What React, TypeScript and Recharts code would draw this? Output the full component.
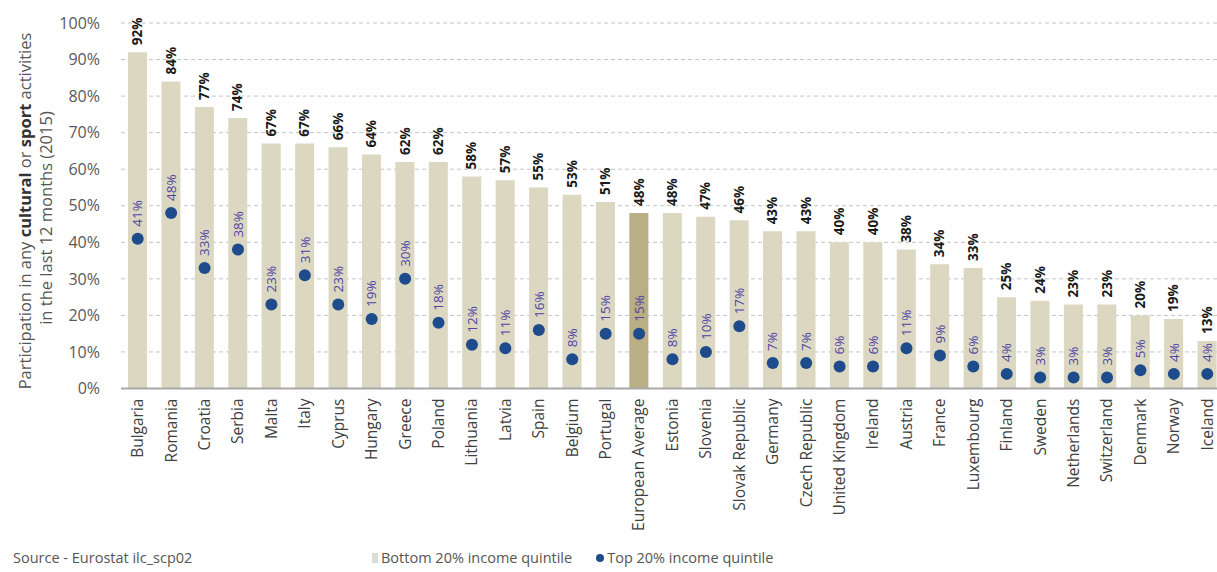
import React from "react";
import {
  ComposedChart,
  Bar,
  Line,
  XAxis,
  YAxis,
  CartesianGrid,
  Cell,
  LabelList,
} from "recharts";

const countries = [
  "Bulgaria", "Romania", "Croatia", "Serbia", "Malta", "Italy", "Cyprus", "Hungary",
  "Greece", "Poland", "Lithuania", "Latvia", "Spain", "Belgium", "Portugal",
  "European Average", "Estonia", "Slovenia", "Slovak Republic", "Germany",
  "Czech Republic", "United Kingdom", "Ireland", "Austria", "France", "Luxembourg",
  "Finland", "Sweden", "Netherlands", "Switzerland", "Denmark", "Norway", "Iceland",
];

const bottomQuintile = [
  92, 84, 77, 74, 67, 67, 66, 64, 62, 62, 58, 57, 55, 53, 51, 48, 48, 47, 46, 43,
  43, 40, 40, 38, 34, 33, 25, 24, 23, 23, 20, 19, 13,
];

const topQuintile = [
  41, 48, 33, 38, 23, 31, 23, 19, 30, 18, 12, 11, 16, 8, 15, 15, 8, 10, 17, 7, 7,
  6, 6, 11, 9, 6, 4, 3, 3, 3, 5, 4, 4,
];

const yTicks = [0, 10, 20, 30, 40, 50, 60, 70, 80, 90, 100];

const highlight = "European Average";

const data = countries.map((c, i) => ({
  name: c,
  bottom: bottomQuintile[i],
  top: topQuintile[i],
}));

const FONT = "'Open Sans', 'DejaVu Sans', sans-serif";
const BAR = "#dbd7c0";
const BAR_HL = "#b9ae84";
const DOT = "#1d4b8c";
const DOT_LABEL = "#4d44a6";

const XTick = (props: any) => {
  const { x, y, payload } = props;
  return (
    <text
      x={x}
      y={y}
      dy="0.35em"
      textAnchor="end"
      transform={`rotate(-90, ${x}, ${y})`}
      fontSize={15.5}
      fontFamily={FONT}
      fill="#404040"
    >
      {payload.value}
    </text>
  );
};

const BarLabel = (props: any) => {
  const { x, y, width, value } = props;
  const cx = x + width / 2;
  const yy = y - 7;
  return (
    <text
      x={cx}
      y={yy}
      dy="0.35em"
      textAnchor="start"
      transform={`rotate(-90, ${cx}, ${yy})`}
      fontSize={13.5}
      fontWeight="bold"
      fontFamily={FONT}
      fill="#1a1a1a"
    >
      {value}%
    </text>
  );
};

const DotLabel = (props: any) => {
  const { x, y, value } = props;
  const yy = y - 12;
  return (
    <text
      x={x}
      y={yy}
      dy="0.35em"
      textAnchor="start"
      transform={`rotate(-90, ${x}, ${yy})`}
      fontSize={13.5}
      fontFamily={FONT}
      fill={DOT_LABEL}
    >
      {value}%
    </text>
  );
};

const YLabel = () => {
  const cy1 = 211;
  const cy2 = 218;
  const x1 = 25;
  const x2 = 46;
  return (
    <g fontFamily={FONT} fontSize={16.5} fill="#555">
      <text
        x={x1}
        y={cy1}
        textAnchor="middle"
        dy="0.35em"
        transform={`rotate(-90, ${x1}, ${cy1})`}
      >
        Participation in any <tspan fontWeight="bold" fill="#333">cultural</tspan> or{" "}
        <tspan fontWeight="bold" fill="#333">sport</tspan> activities
      </text>
      <text
        x={x2}
        y={cy2}
        textAnchor="middle"
        dy="0.35em"
        transform={`rotate(-90, ${x2}, ${cy2})`}
      >
        in the last 12 months (2015)
      </text>
    </g>
  );
};

export default function App() {
  return (
    <div
      style={{
        position: "absolute",
        left: 0,
        top: 0,
        width: 1217,
        height: 572,
        overflow: "hidden",
        background: "#fff",
        fontFamily: FONT,
      }}
    >
      <ComposedChart
        width={1224}
        height={572}
        data={data}
        margin={{ top: 23, right: 0, left: 0, bottom: 0 }}
      >
        <CartesianGrid
          vertical={false}
          stroke="#c4c4c4"
          strokeDasharray="4 3"
        />
        <XAxis
          dataKey="name"
          interval={0}
          height={183.5}
          tick={<XTick />}
          tickLine={false}
          tickSize={0}
          tickMargin={10}
          axisLine={{ stroke: "#a8a8a8", strokeWidth: 2 }}
        />
        <YAxis
          width={121}
          domain={[0, 100]}
          ticks={yTicks}
          tickFormatter={(v: number) => `${v}%`}
          axisLine={false}
          tickLine={false}
          tickSize={0}
          tickMargin={21}
          tick={{ fontSize: 16, fill: "#595959", fontFamily: FONT }}
          label={{ content: <YLabel /> }}
        />
        <Bar dataKey="bottom" barSize={19} isAnimationActive={false}>
          {data.map((d) => (
            <Cell key={d.name} fill={d.name === highlight ? BAR_HL : BAR} />
          ))}
          <LabelList dataKey="bottom" content={<BarLabel />} />
        </Bar>
        <Line
          dataKey="top"
          stroke="none"
          isAnimationActive={false}
          activeDot={false}
          dot={{ r: 6, fill: DOT, stroke: "none" }}
        >
          <LabelList dataKey="top" content={<DotLabel />} />
        </Line>
      </ComposedChart>
      <div
        style={{
          position: "absolute",
          left: 13,
          top: 548,
          fontSize: 14.5,
          color: "#555",
          whiteSpace: "nowrap",
        }}
      >
        Source - Eurostat ilc_scp02
      </div>
      <div
        style={{
          position: "absolute",
          left: 372,
          top: 548,
          fontSize: 14.5,
          color: "#555",
          whiteSpace: "nowrap",
          display: "flex",
          alignItems: "center",
        }}
      >
        <span
          style={{
            display: "inline-block",
            width: 6,
            height: 10,
            background: "#dcdcd6",
            marginRight: 3,
          }}
        />
        <span>Bottom 20% income quintile</span>
        <span
          style={{
            display: "inline-block",
            width: 8,
            height: 8,
            borderRadius: 4,
            background: DOT,
            marginLeft: 24,
            marginRight: 3,
          }}
        />
        <span>Top 20% income quintile</span>
      </div>
    </div>
  );
}
